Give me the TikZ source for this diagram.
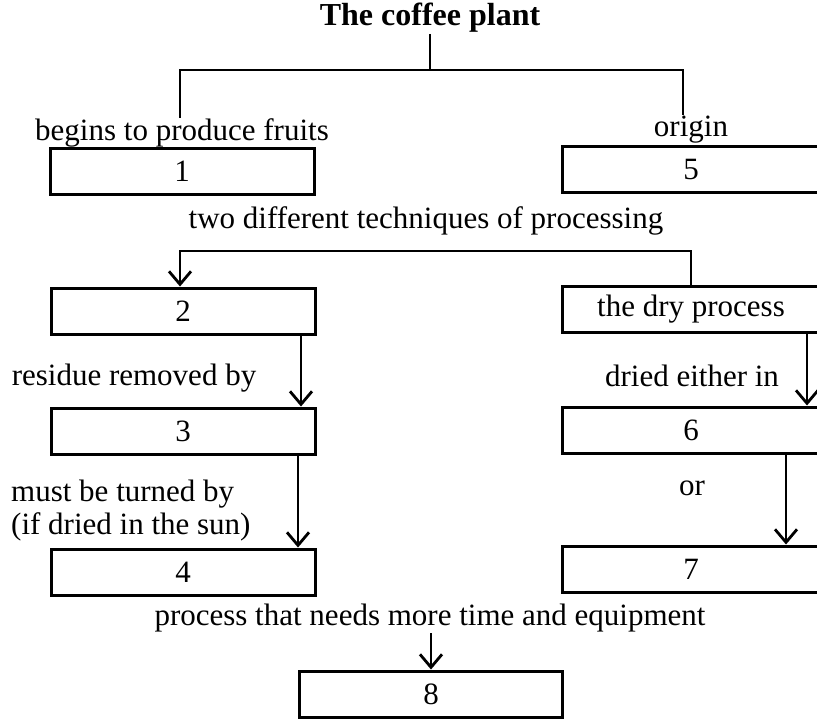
\documentclass[tikz,border=0pt]{standalone}
\usepackage{fontspec}
\setmainfont{Liberation Serif}
\usetikzlibrary{arrows.meta}

\tikzset{
    numbox/.style={draw, line width=3pt, minimum height=46pt, inner sep=0pt},
    leftbox/.style={numbox, minimum width=264pt},
    rightbox/.style={numbox, minimum width=258pt},
    lbl/.style={inner sep=1pt},
    link/.style={line width=2.8pt, -{Straight Barb[length=13pt, width=22pt, line width=2.8pt]}},
}

\begin{document}
\begin{tikzpicture}[x=1pt, y=-1pt, font=\fontsize{31}{33}\selectfont]

    \useasboundingbox (0, 0) rectangle (817, 723);

    % Title
    \node[lbl, font=\fontsize{32}{36}\selectfont\bfseries] (title) at (430, 18) {The coffee plant};

    % First level
    \node[lbl] (fruits) at (182, 133) {begins to produce fruits};
    \node[lbl] (origin) at (691, 130) {origin};
    \node[leftbox] (box1) at (182, 171) {1};
    \node[rightbox] (box5) at (691, 169) {5};

    \coordinate (forkL) at (180, 70);
    \coordinate (forkR) at (683, 70);
    \draw[line width=2.8pt] (title.south) -- (title.south |- forkL);
    \draw[line width=2.8pt] (forkL |- fruits.north) -- (forkL) -- (forkR) -- (forkR |- origin.north);

    % Processing
    \node[lbl] (techniques) at (426, 221) {two different techniques of processing};
    \node[leftbox] (box2) at (183, 311) {2};
    \node[rightbox] (dry) at (691, 309) {the dry process};

    \coordinate (splitL) at (180, 251);
    \coordinate (splitR) at (691, 251);
    \draw[link, {Straight Barb[length=13pt, width=22pt, line width=2.8pt]}-] (box2.north -| splitL) |- (splitR) -- (dry.north -| splitR);

    % Left column
    \node[lbl] (residue) at (134, 378) {residue removed by};
    \node[leftbox] (box3) at (183, 431) {3};
    \node[lbl, align=left, anchor=west] (turned) at (10, 511) {must be turned by\\(if dried in the sun)};
    \node[leftbox] (box4) at (183, 572) {4};

    \draw[link] ([xshift=118pt]box2.south) -- ([xshift=118pt]box3.north);
    \draw[link] ([xshift=115pt]box3.south) -- ([xshift=115pt]box4.north);

    % Right column
    \node[lbl] (dried) at (692, 376) {dried either in};
    \node[rightbox] (box6) at (691, 430) {6};
    \node[lbl] (either) at (692, 488) {or};
    \node[rightbox] (box7) at (691, 569) {7};

    \draw[link] ([xshift=116pt]dry.south) -- ([xshift=116pt]box6.north);
    \draw[link] ([xshift=95pt]box6.south) -- ([xshift=95pt]box7.north);

    % Last step
    \node[lbl] (process) at (430, 618) {process that needs more time and equipment};
    \node[leftbox, minimum width=263pt] (box8) at (431, 694) {8};

    \draw[link] (process.south -| box8) -- (box8.north);

\end{tikzpicture}
\end{document}
